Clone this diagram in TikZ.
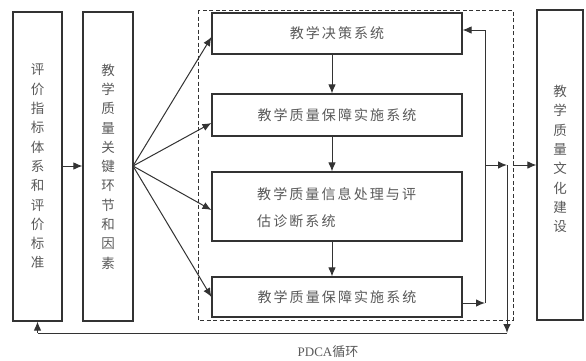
\documentclass[tikz,border=0pt]{standalone}
\usepackage{fontspec}
\setmainfont{Liberation Serif}
\newfontfamily\cjk{Noto Sans CJK SC}
\newfontfamily\cjkw[LetterSpace=15]{Noto Sans CJK SC}
\usetikzlibrary{arrows.meta}
\definecolor{ln}{HTML}{333333}
\definecolor{tx}{HTML}{5A5A5A}
\begin{document}
\begin{tikzpicture}[x=1pt,y=-1pt,
  box/.style={draw=ln,line width=1.1pt,inner sep=0pt,text=tx},
  vtext/.style={font=\cjk\fontsize{13.5}{19.3}\selectfont,align=center},
  htext/.style={font=\cjkw\fontsize{14}{27}\selectfont},
  arr/.style={draw=ln,line width=1pt,-{Latex[length=9pt,width=7.5pt]}},
  ln/.style={draw=ln,line width=1pt}]
\useasboundingbox (0,0) rectangle (586,360);
\fill[white] (0,0) rectangle (586,360);
% dashed frame
\draw[draw=ln,line width=1pt,dash pattern=on 4pt off 2.5pt] (198,10) rectangle (513,320);
% left boxes
\node[box,vtext,minimum width=49pt,minimum height=309pt] (L1) at (37.5,166.5) {评\\价\\指\\标\\体\\系\\和\\评\\价\\标\\准};
\node[box,vtext,minimum width=50pt,minimum height=309pt] (L2) at (108,166.5) {教\\学\\质\\量\\关\\键\\环\\节\\和\\因\\素};
% inner boxes
\node[box,htext,minimum width=250pt,minimum height=41pt] (A) at (337,33.5) {教学决策系统};
\node[box,htext,minimum width=250pt,minimum height=42pt] (B) at (337,115) {教学质量保障实施系统};
\node[box,minimum width=250pt,minimum height=69pt] (C) at (337,206.5) {};
\node[htext,text=tx,anchor=west,align=left,inner sep=0pt] (Ct) at (257,207.5) {教学质量信息处理与评\\估诊断系统};
\node[box,htext,minimum width=250pt,minimum height=40pt] (D) at (337,297) {教学质量保障实施系统};
% right box
\node[box,minimum width=46pt,minimum height=310pt] (R) at (560,165) {};
\node[vtext,text=tx,inner sep=0pt] (Rt) at (560,159) {教\\学\\质\\量\\文\\化\\建\\设};
% PDCA label
\node[text=tx,font=\fontsize{13}{15}\selectfont,inner sep=0pt] (P) at (328,352) {PDCA{\cjk 循环}};
% coordinates
\coordinate (c1) at (485,30);
\coordinate (c2) at (485,303);
\coordinate (c3) at (485,165);
\coordinate (c4) at (507,165);
\coordinate (c5) at (513,165);
\coordinate (c6) at (507,333);
\coordinate (c7) at (37.5,333);
\coordinate (f) at (133,166);
% connectors
\draw[arr] (L1.east |- f) -- (L2.west |- f);
\draw[arr] (f) -- ([yshift=-3.5pt]A.west);
\draw[arr] (f) -- ([yshift=-8pt]B.west);
\draw[arr] (f) -- ([yshift=-3.5pt]C.west);
\draw[arr] (f) -- (D.west);
\draw[arr] ([xshift=-5pt]A.south) -- ([xshift=-5pt]B.north);
\draw[arr] ([xshift=-5pt]B.south) -- ([xshift=-5pt]C.north);
\draw[arr] ([xshift=-5pt]C.south) -- ([xshift=-5pt]D.north);
\draw[arr] (D.east |- c2) -- (c2);
\draw[arr] (c2) -- (c1) -- (A.east |- c1);
\draw[arr] (c3) -- (c4);
\draw[arr] (c4) -- (c6);
\draw[ln] (c6) -- (c7);
\draw[arr] (c7) -- (L1.south);
\draw[arr] (c5) -- (R.west);
\end{tikzpicture}
\end{document}
